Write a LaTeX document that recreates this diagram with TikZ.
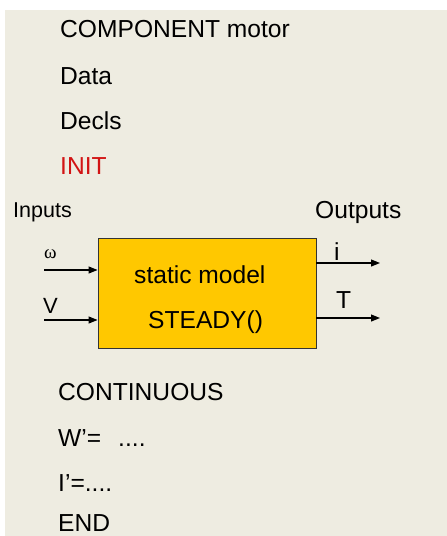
\documentclass[tikz,border=0pt]{standalone}
\usepackage{fontspec}
\setmainfont{Liberation Sans}
\newfontfamily\symfont{Liberation Serif}
\usetikzlibrary{arrows.meta}
\definecolor{paper}{RGB}{238,236,225}
\definecolor{boxfill}{RGB}{255,200,0}
\definecolor{initred}{RGB}{210,20,20}
\tikzset{
  txt/.style={anchor=base west,inner sep=0pt,font=\fontsize{24.6}{24.6}\selectfont},
  smalltxt/.style={anchor=base west,inner sep=0pt,font=\fontsize{21.5}{21.5}\selectfont},
  arr/.style={line width=1.1pt,-{Triangle[length=9pt,width=7pt]}},
  blockbox/.style={draw=black!80,line width=0.9pt,fill=boxfill}
}
\begin{document}
\begin{tikzpicture}[x=1pt,y=-1pt]
\useasboundingbox (0,0) rectangle (447,536);
\fill[white] (0,0) rectangle (447,536);
\fill[paper] (5,10) rectangle (447,536);
\node[txt] (comp) at (60,37) {COMPONENT motor};
\node[txt] (data) at (60,84) {Data};
\node[txt] (decls) at (60,129) {Decls};
\node[txt,text=initred] (init) at (60,174) {INIT};
\node[smalltxt] (inputs) at (13,217) {Inputs};
\node[txt] (outputs) at (315,218) {Outputs};
\node[blockbox,minimum width=218pt,minimum height=110pt,inner sep=0pt] (box) at (207,293) {};
\node[txt] (static) at (134,283) {static model};
\node[txt] (steady) at (148,328) {STEADY()};
\coordinate (w0) at (44,270);
\coordinate (v0) at (44,320);
\coordinate (i1) at (380,263);
\coordinate (t1) at (380,318);
\draw[arr] (w0) -- (w0 -| box.west);
\draw[arr] (v0) -- (v0 -| box.west);
\draw[arr] (box.east |- i1) -- (i1);
\draw[arr] (box.east |- t1) -- (t1);
\node[anchor=base west,inner sep=0pt,font=\symfont\fontsize{19}{19}\selectfont] (omega) at (44,258) {ω};
\node[anchor=base west,inner sep=0pt,font=\fontsize{22}{22}\selectfont] (vlab) at (43,313) {V};
\node[txt] (ilab) at (334,260) {i};
\node[txt] (tlab) at (336,308) {T};
\node[txt] (cont) at (58,400) {CONTINUOUS};
\node[txt] (weq) at (58,446) {W’=\hspace{17pt}....};
\node[txt] (ieq) at (58,491) {I’=....};
\node[txt] (endk) at (58,531) {END};
\end{tikzpicture}
\end{document}
